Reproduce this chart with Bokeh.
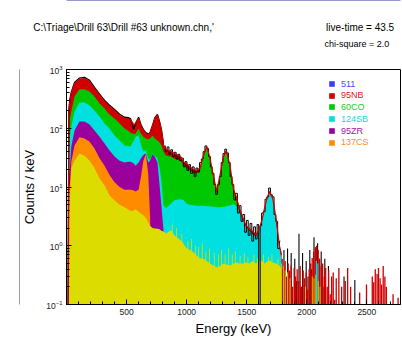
from bokeh.plotting import figure
from bokeh.models import (Legend, LegendItem, SingleIntervalTicker, FixedTicker,
                          LinearAxis, Title)
from bokeh.embed import file_html
from bokeh.resources import INLINE

# ---------------- data ----------------
energy = [12, 20, 28, 40, 67, 108, 150, 192, 233, 275, 317, 358, 400, 442, 483,
          511, 533, 560, 575, 600, 620, 640, 660, 680, 695, 715, 735, 757, 775,
          790, 808, 830, 870, 900, 950, 972, 1000, 1028, 1055, 1083, 1111, 1139,
          1167, 1194, 1222, 1250, 1278, 1306, 1330, 1361, 1389, 1417, 1439, 1470,
          1494, 1520, 1550, 1578, 1606, 1630, 1647, 1670, 1690, 1717, 1744, 1772,
          1790, 1800]

# cumulative tops of the stacked fit components (counts / keV)
nb95_top = [0.05, 200, 297, 390, 578, 684, 703, 625, 475, 365, 285, 234, 200, 165, 147,
            145, 140, 115, 121, 147, 111, 92, 81, 78, 81, 107, 147, 167, 125,
            92, 51, 44, 40, 37, 33, 27, 25, 22, 20, 19, 21, 34,
            49, 31, 16, 8.4, 16, 33, 42, 23, 9.4, 6.4, 4.3, 2.9,
            2.2, 1.97, 1.75, 1.53, 1.97, 2.9, 4.3, 6.6, 8.4, 6.4, 2.9, 1.0,
            0.7, 0.05]
co60_top = [0.05, 92, 147, 193, 347, 462, 462, 423, 347, 264, 217, 171, 147, 121, 99,
            92, 84, 80, 81, 99, 81, 72, 67, 65, 67, 75, 67, 62, 57,
            51, 40, 34, 33, 30, 28, 24, 21, 19, 17.5, 17, 19, 32,
            47, 29.5, 15, 7.9, 15, 31, 40, 21.5, 8.6, 5.5, 3.9, 2.65,
            2.05, 1.85, 1.55, 1.45, 1.85, 2.75, 4.05, 6.2, 7.9, 6.0, 2.7, 0.92,
            0.55, 0.05]
sb124_top = [0.05, 42, 67, 107, 193, 274, 274, 244, 200, 158, 121, 99, 75, 62, 51,
             50, 49, 62, 72, 75, 52, 40, 42, 31, 29, 37, 34, 31, 21,
             13, 4.8, 4.4, 5.3, 6.0, 6.2, 6.0, 5.2, 5.0, 4.9, 4.8, 4.8, 4.8,
             4.7, 4.7, 4.6, 4.5, 4.5, 4.6, 4.7, 4.9, 5.1, 4.7, 3.7, 2.65,
             2.05, 1.85, 1.55, 1.45, 1.85, 2.75, 4.05, 6.2, 7.9, 6.0, 2.7, 0.92,
             0.55, 0.05]
zr95_top = [0.05, 16, 21, 49, 92, 130, 130, 116, 92, 72, 55, 42, 33, 28, 26,
            27, 27, 25, 23, 26, 31, 35, 37, 26, 28, 36, 33, 26, 10.6,
            4.8, 1.75, 0.05, 0.05, 0.05, 0.05, 0.05, 0.05, 0.05, 0.05, 0.05, 0.05, 0.05,
            0.05, 0.05, 0.05, 0.05, 0.05, 0.05, 0.05, 0.05, 0.05, 0.05, 0.05, 0.05,
            0.05, 0.05, 0.05, 0.05, 0.05, 0.05, 0.05, 0.05, 0.05, 0.05, 0.05, 0.05,
            0.05, 0.05]
cs137_top = [0.05, 8.7, 10.6, 27, 51, 70, 67, 59, 45, 31, 23, 16, 12, 10, 9,
             9, 9, 8.7, 8.4, 9, 15, 28, 36, 17, 3.3, 0.05, 0.05, 0.05, 0.05,
             0.05, 0.05, 0.05, 0.05, 0.05, 0.05, 0.05, 0.05, 0.05, 0.05, 0.05, 0.05, 0.05,
             0.05, 0.05, 0.05, 0.05, 0.05, 0.05, 0.05, 0.05, 0.05, 0.05, 0.05, 0.05,
             0.05, 0.05, 0.05, 0.05, 0.05, 0.05, 0.05, 0.05, 0.05, 0.05, 0.05, 0.05,
             0.05, 0.05]
bkg_top = [0.05, 0.2, 5.9, 21, 28, 37, 34, 28, 21, 14, 10.6, 7.2, 5.9, 5.0, 4.5,
           4.2, 3.9, 4.0, 4.2, 3.8, 3.5, 3.3, 3.0, 2.5, 2.2, 2.0, 1.97, 1.95, 1.9,
           1.8, 1.75, 1.62, 1.86, 1.5, 1.24, 1.1, 0.9, 0.85, 0.78, 0.68, 0.61, 0.6,
           0.55, 0.5, 0.46, 0.43, 0.45, 0.5, 0.48, 0.46, 0.5, 0.52, 0.5, 0.5,
           0.52, 0.5, 0.55, 0.5, 0.56, 0.55, 0.5, 0.54, 0.56, 0.52, 0.5, 0.46,
           0.4, 0.05]

# 511 keV annihilation component (small bump on top)
ann511_e = [490, 503, 511, 519, 530]
ann511_top = [140, 145, 158, 146, 138]

# background spikes in the continuum
bkg_spike_e = [880, 915, 960, 1010, 1040, 1075, 1100, 1130, 1160, 1190, 1230, 1265,
               1290, 1320, 1350, 1380, 1405, 1445, 1480, 1510, 1560, 1590, 1640,
               1680, 1710, 1760, 1790, 1805, 1820, 1840, 1860, 1990, 2045, 2060,
               2075, 2095, 2110]
bkg_spike_v = [2.3, 2.0, 1.6, 1.2, 1.3, 1.0, 0.95, 1.1, 0.8, 0.9, 0.75, 0.7,
               0.85, 0.72, 0.9, 0.7, 0.8, 0.68, 0.75, 0.65, 0.7, 0.62, 0.7,
               0.65, 0.72, 0.6, 0.5, 0.45, 0.38, 0.35, 0.28, 0.2, 0.3, 0.28,
               0.32, 0.25, 0.2]

# high-energy channels of the 95NB component
nb95_hi_e = [1795, 1808, 1820, 1832, 1845, 1857, 1870, 1882, 1895, 1907, 1920, 1932,
             1945, 1957, 1970, 1982, 1995, 2007, 2020, 2032, 2045, 2057, 2070, 2082,
             2095, 2107, 2120, 2132, 2145, 2157, 2170, 2182, 2195, 2207, 2220, 2232,
             2245, 2267, 2290, 2320, 2340, 2365, 2440, 2497, 2545, 2557, 2570, 2585,
             2597, 2610, 2622, 2636, 2650, 2662, 2718, 2760]
nb95_hi_v = [0.6, 0.45, 0.55, 0.3, 0.5, 0.38, 0.46, 0.2, 0.42, 0.3, 0.4, 0.25,
             0.45, 0.2, 0.38, 0.28, 0.35, 0.18, 0.4, 0.5, 0.62, 0.8, 0.95, 1.0,
             0.85, 0.6, 0.45, 0.5, 0.3, 0.42, 0.2, 0.38, 0.15, 0.3, 0.35, 0.12,
             0.28, 0.42, 0.2, 0.25, 0.42, 0.2, 0.16, 0.22, 0.3, 0.24, 0.4, 0.33,
             0.42, 0.28, 0.22, 0.45, 0.3, 0.2, 0.15, 0.13]
sb124_hi_e = [2080, 2092]
sb124_hi_v = [0.55, 0.5]

# measured spectrum (black)
data_lo_e = [12, 20, 28, 40, 67, 108, 150, 192, 233, 275, 317, 358, 400, 442, 483,
             511, 533, 560, 575, 600, 620, 640, 660, 680, 695, 715, 735, 757, 775,
             790, 808]
data_lo_counts = [0.05, 210, 310, 410, 600, 715, 735, 655, 498, 382, 298, 246, 209, 173, 154,
                  152, 146, 96, 120, 154, 114, 95, 84, 80, 84, 110, 150, 172, 128,
                  95, 53]
data_hi_e = [815, 830, 845, 860, 875, 890, 905, 920, 935, 950, 965, 980, 995, 1010,
             1025, 1040, 1055, 1070, 1085, 1100, 1115, 1130, 1145, 1160, 1175, 1190,
             1205, 1220, 1235, 1250, 1265, 1280, 1295, 1310, 1325, 1340, 1355, 1370,
             1385, 1400, 1415, 1430, 1445, 1460, 1475, 1490, 1505, 1520, 1535, 1550,
             1565, 1580, 1593, 1606, 1618, 1630, 1645, 1660, 1675, 1690, 1705, 1720,
             1735, 1750, 1765, 1780]
data_hi_counts = [50, 40, 48, 36, 43, 33, 39, 30, 36, 28, 31, 22, 27, 19,
                  24, 17, 22, 15, 21, 18, 26, 30, 40, 50, 45, 33,
                  22, 17, 11, 7.5, 11, 15, 26, 37, 44, 38, 26, 15,
                  11, 6, 7.8, 3.6, 4.8, 2.6, 3.4, 1.7, 2.7, 1.5, 2.4, 1.2,
                  2.1, 1.3, 2.3, 0.05, 2.2, 3.6, 3.8, 6.2, 6.8, 9.6, 7.4, 6.8,
                  3.4, 2.6, 0.9, 1.2]
data_tail_e = [1795, 1810, 1840, 1855, 1870, 1900, 1915, 1935, 1950, 1965, 1995,
               2010, 2025, 2040, 2060, 2075, 2090, 2105, 2120, 2135, 2150, 2180,
               2206, 2310, 2400]
data_tail_counts = [0.4, 0.85, 0.9, 0.3, 0.75, 0.6, 0.25, 1.6, 0.2, 0.75, 0.55,
                    0.3, 0.85, 0.4, 1.4, 0.9, 1.1, 0.6, 0.8, 0.2, 0.6, 0.45,
                    0.26, 0.3, 0.26]

x_tick_interval = 500
legend_names = ["511", "95NB", "60CO", "124SB", "95ZR", "137CS"]
title_text = r"C:\Triage\Drill 63\Drill #63 unknown.chn,'"
live_time_text = "live-time = 43.5"
chi_square_text = "chi-square =   2.0"

# ---------------- styling ----------------
FONT = "Liberation Sans"
C_BLUE = "#3c3cff"
C_RED = "#d00000"
C_GREEN = "#00c800"
C_CYAN = "#00e0e0"
C_PURPLE = "#9c009c"
C_ORANGE = "#ff8c00"
C_YELLOW = "#dcdc00"
C_WIN = "#9a9ad2"
FLOOR = 0.05

p = figure(width=402, height=340, x_range=(0, 2780), y_range=(0.1, 1000),
           y_axis_type="log", output_backend="svg", toolbar_location=None,
           min_border_left=66, min_border_right=2, min_border_top=69,
           min_border_bottom=36, background_fill_color="white",
           border_fill_color="white")
p.grid.visible = False
p.outline_line_color = "black"
p.outline_line_width = 1

# stacked components (largest first)
r_blue = p.varea(x=ann511_e, y1=FLOOR, y2=ann511_top, fill_color=C_BLUE)
r_red = p.varea(x=energy, y1=FLOOR, y2=nb95_top, fill_color=C_RED)
r_green = p.varea(x=energy, y1=FLOOR, y2=co60_top, fill_color=C_GREEN)
r_cyan = p.varea(x=energy, y1=FLOOR, y2=sb124_top, fill_color=C_CYAN)
r_purple = p.varea(x=energy, y1=FLOOR, y2=zr95_top, fill_color=C_PURPLE)
r_orange = p.varea(x=energy, y1=FLOOR, y2=cs137_top, fill_color=C_ORANGE)
p.varea(x=energy, y1=FLOOR, y2=bkg_top, fill_color=C_YELLOW)

# sparse high-energy channels: measured counts behind the fitted components
p.vbar(x=data_tail_e, width=9, bottom=FLOOR, top=data_tail_counts,
       fill_color="black", line_color=None)
p.vbar(x=nb95_hi_e, width=11, bottom=FLOOR, top=nb95_hi_v, fill_color=C_RED,
       line_color=None)
p.vbar(x=sb124_hi_e, width=9, bottom=FLOOR, top=sb124_hi_v, fill_color=C_CYAN,
       line_color=None)
p.vbar(x=bkg_spike_e, width=7, bottom=FLOOR, top=bkg_spike_v, fill_color=C_YELLOW,
       line_color=None)

# measured spectrum
p.line(x=data_lo_e, y=data_lo_counts, line_color="black", line_width=1.3)
p.step(x=data_hi_e, y=data_hi_counts, mode="center", line_color="black",
       line_width=1)
# total fit line
p.line(x=energy[:-1], y=nb95_top[:-1], line_color=C_RED, line_width=1.2)

# axes
xa = p.xaxis[0]
xa.ticker = SingleIntervalTicker(interval=x_tick_interval, num_minor_ticks=5)
xa.major_label_overrides = {0: ""}
ya = p.yaxis[0]
for ax in (xa, ya):
    ax.axis_line_color = "black"
    ax.major_tick_in = 5
    ax.major_tick_out = 0
    ax.minor_tick_in = 3
    ax.minor_tick_out = 0
    ax.major_tick_line_color = "black"
    ax.minor_tick_line_color = "black"
    ax.major_label_text_font = FONT
    ax.major_label_text_font_size = "8.5px"
    ax.major_label_text_color = "#222222"
    ax.major_label_standoff = 4
    ax.axis_label_text_font = FONT
    ax.axis_label_text_font_size = "13px"
    ax.axis_label_text_font_style = "normal"
    ax.axis_label_text_color = "black"
ya.axis_label = "Counts / keV"
ya.axis_label_standoff = 6
xa.axis_label = "Energy (keV)"
xa.axis_label_standoff = 3

# legend: one block per entry so each label keeps its own colour
leg_rends = [r_blue, r_red, r_green, r_cyan, r_purple, r_orange]
leg_cols = ["#4848ff", "#dd2020", "#20cc20", "#10dada", "#a020a0", "#ff9020"]
leg_y = [215.5, 204, 192.5, 180.5, 168.5, 157]
for name, rend, col, ly in zip(legend_names, leg_rends, leg_cols, leg_y):
    lg = Legend(items=[LegendItem(label=name, renderers=[rend])], location=(262, ly),
                label_text_color=col, label_text_font=FONT,
                label_text_font_size="9px", glyph_width=7, glyph_height=7,
                label_height=7, label_width=10, label_standoff=6, padding=0,
                margin=0, spacing=0, border_line_alpha=0,
                background_fill_alpha=0)
    p.add_layout(lg)


def text_row(labels, size, standoff):
    """A bare top axis whose tick labels carry one row of header text."""
    ticks = list(labels)
    ax = LinearAxis(ticker=FixedTicker(ticks=ticks),
                    major_label_overrides=dict(labels),
                    axis_line_color=None, major_tick_line_color=None,
                    minor_tick_line_color=None, major_tick_in=0, major_tick_out=0,
                    minor_tick_in=0, minor_tick_out=0,
                    major_label_standoff=standoff, major_label_text_font=FONT,
                    major_label_text_font_size=size,
                    major_label_text_color="black")
    p.add_layout(ax, "above")


# header texts, stacked outward from the frame
text_row({2437: chi_square_text}, "9px", 21)
text_row({475: title_text, 2444: live_time_text}, "10px", 3)
p.add_layout(Title(text=" ", standoff=7, text_font_size="8px"), "above")

# window edge lines (top and left)
for side in ("above", "left"):
    edge = LinearAxis(ticker=FixedTicker(ticks=[]), axis_line_color=C_WIN,
                      major_tick_line_color=None, minor_tick_line_color=None,
                      major_tick_out=0, minor_tick_out=0, major_tick_in=0,
                      minor_tick_in=0, major_label_text_alpha=0)
    p.add_layout(edge, side)

open("out.html", "w").write(file_html(p, INLINE))
